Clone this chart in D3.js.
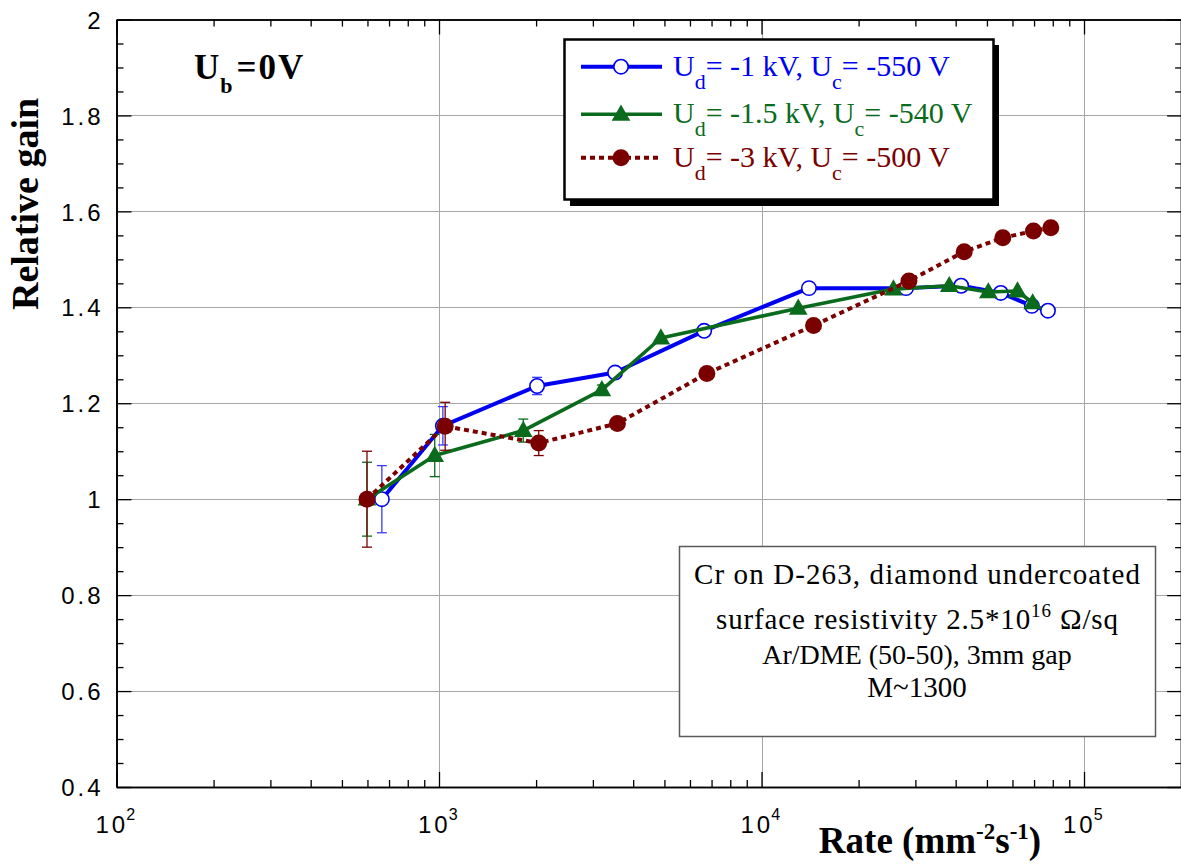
<!DOCTYPE html>
<html>
<head>
<meta charset="utf-8">
<script src="https://cdn.jsdelivr.net/npm/d3@7"></script>
<style>
  html, body { margin: 0; padding: 0; background: #fff; }
  svg { display: block; }
</style>
</head>
<body>
<svg id="chart" width="1181" height="866"></svg>
<script>
// ---- data: rate (mm^-2 s^-1), relative gain, and gain uncertainty ----
const rateBlue  = [665, 1028, 2014, 3516, 6640, 14030, 28060, 41600, 55200, 68900, 77300];
const gainBlue  = [1.000, 1.153, 1.236, 1.264, 1.351, 1.440, 1.440, 1.445, 1.430, 1.403, 1.393];
const errBlue   = [0.070, 0.040, 0.018, 0.010, 0, 0, 0, 0, 0, 0, 0];

const rateGreen = [598, 970, 1825, 3199, 4875, 13000, 25650, 38200, 50500, 62200, 69300];
const gainGreen = [1.000, 1.091, 1.143, 1.228, 1.336, 1.398, 1.438, 1.445, 1.432, 1.434, 1.409];
const errGreen  = [0.077, 0.044, 0.024, 0.010, 0, 0, 0, 0, 0, 0, 0];

const rateRed   = [598, 1045, 2038, 3574, 6770, 14500, 28650, 42500, 56000, 69700, 78900];
const gainRed   = [1.000, 1.152, 1.117, 1.158, 1.262, 1.362, 1.455, 1.516, 1.545, 1.559, 1.566];
const errRed    = [0.100, 0.050, 0.026, 0.012, 0, 0, 0, 0, 0, 0, 0];

const seriesNames = [
  { U: "U", d: "d", mid: "= -1 kV, U", c: "c", end: "= -550 V" },
  { U: "U", d: "d", mid: "= -1.5 kV, U", c: "c", end: "= -540 V" },
  { U: "U", d: "d", mid: "= -3 kV, U", c: "c", end: "= -500 V" }
];

const yTickValues = [0.4, 0.6, 0.8, 1.0, 1.2, 1.4, 1.6, 1.8, 2.0];
const xTickExponents = [2, 3, 4, 5];

const infoLines = [
  "Cr on D-263, diamond undercoated",
  "surface resistivity 2.5*10",
  "Ar/DME (50-50), 3mm gap",
  "M~1300"
];

// ---- layout ----
const plot = { left: 116.5, top: 19.5, right: 1181.1, bottom: 787 };
const serif = "'Liberation Serif', 'Times New Roman', Times, serif";
const sans = "'Liberation Sans', Arial, Helvetica, sans-serif";
const colors = { blue: "#0000f0", green: "#0b6b1c", red: "#7a0000" };

const svg = d3.select("#chart");

const x = d3.scaleLog().domain([100, 2e5]).range([plot.left, plot.right]);
const y = d3.scaleLinear().domain([0.4, 2.0]).range([plot.bottom, plot.top]);

// ---- grid ----
const grid = svg.append("g").attr("stroke", "#a6a6a6").attr("stroke-width", 1);
xTickExponents.filter(e => e > 2).forEach(e => {
  grid.append("line")
    .attr("x1", Math.round(x(Math.pow(10, e))) + 0.5).attr("x2", Math.round(x(Math.pow(10, e))) + 0.5)
    .attr("y1", plot.top).attr("y2", plot.bottom);
});
yTickValues.filter(v => v > 0.45 && v < 1.95).forEach(v => {
  grid.append("line")
    .attr("x1", plot.left).attr("x2", plot.right)
    .attr("y1", Math.round(y(v)) + 0.5).attr("y2", Math.round(y(v)) + 0.5);
});

// ---- axes ----
const majorX = xTickExponents.map(e => Math.pow(10, e));
const minorX = [];
[2, 3, 4].forEach(e => { for (let k = 2; k <= 9; k++) minorX.push(k * Math.pow(10, e)); });
minorX.push(2e5);
const minorY = d3.range(0.45, 2.0, 0.05).filter(v => Math.abs(v * 5 - Math.round(v * 5)) > 0.01);

function styleAxis(g) {
  g.select(".domain").attr("stroke", "#000").attr("stroke-width", 1.6);
  g.selectAll(".tick line").attr("stroke", "#000").attr("stroke-width", 1.3);
}

// bottom
svg.append("g").attr("transform", `translate(0,${plot.bottom})`)
  .call(d3.axisBottom(x).tickValues(minorX).tickSize(-7).tickSizeOuter(0).tickFormat(""))
  .call(styleAxis);
svg.append("g").attr("transform", `translate(0,${plot.bottom})`)
  .call(d3.axisBottom(x).tickValues(majorX).tickSize(-15).tickSizeOuter(0).tickFormat(""))
  .call(styleAxis);
// top
svg.append("g").attr("transform", `translate(0,${plot.top})`)
  .call(d3.axisTop(x).tickValues(minorX).tickSize(-7).tickSizeOuter(0).tickFormat(""))
  .call(styleAxis);
svg.append("g").attr("transform", `translate(0,${plot.top})`)
  .call(d3.axisTop(x).tickValues(majorX).tickSize(-15).tickSizeOuter(0).tickFormat(""))
  .call(styleAxis);
// left
svg.append("g").attr("transform", `translate(${plot.left},0)`)
  .call(d3.axisLeft(y).tickValues(minorY).tickSize(-7).tickSizeOuter(0).tickFormat(""))
  .call(styleAxis);
const yAxisG = svg.append("g").attr("transform", `translate(${plot.left},0)`)
  .call(d3.axisLeft(y).tickValues(yTickValues).tickSize(-15).tickSizeOuter(0).tickPadding(13)
    .tickFormat(v => String(Math.round(v * 10) / 10)))
  .call(styleAxis);
yAxisG.selectAll(".tick text")
  .attr("font-family", sans).attr("font-size", 24).attr("fill", "#000")
  .attr("letter-spacing", 3).attr("dy", "0.36em");
// right
svg.append("g").attr("transform", `translate(${plot.right},0)`)
  .call(d3.axisRight(y).tickValues(minorY).tickSize(-6).tickSizeOuter(0).tickFormat(""))
  .call(styleAxis);
svg.append("g").attr("transform", `translate(${plot.right},0)`)
  .call(d3.axisRight(y).tickValues(yTickValues).tickSize(-14).tickSizeOuter(0).tickFormat(""))
  .call(styleAxis);

// x tick labels as powers of ten
xTickExponents.forEach(e => {
  const t = svg.append("text")
    .attr("x", x(Math.pow(10, e)) - 21).attr("y", 833)
    .attr("font-family", sans).attr("font-size", 24).attr("fill", "#000");
  t.append("tspan").attr("letter-spacing", 3).text("10");
  t.append("tspan").attr("font-size", 16).attr("dy", -13).attr("dx", -2).text(String(e));
});

// ---- axis titles ----
svg.append("text")
  .attr("transform", "translate(38,204) rotate(-90)")
  .attr("text-anchor", "middle")
  .attr("font-family", serif).attr("font-weight", "bold").attr("font-size", 38)
  .text("Relative gain");

const xt = svg.append("text")
  .attr("x", 930).attr("y", 853).attr("text-anchor", "middle")
  .attr("font-family", serif).attr("font-weight", "bold").attr("font-size", 37);
xt.append("tspan").text("Rate (mm");
xt.append("tspan").attr("font-size", 23).attr("dy", -14).text("-2");
xt.append("tspan").attr("dy", 14).text("s");
xt.append("tspan").attr("font-size", 23).attr("dy", -14).text("-1");
xt.append("tspan").attr("dy", 14).text(")");

// ---- bias label ----
const ub = svg.append("text")
  .attr("x", 194).attr("y", 79)
  .attr("font-family", serif).attr("font-weight", "bold").attr("font-size", 35);
ub.append("tspan").text("U");
ub.append("tspan").attr("font-size", 22).attr("dy", 14).attr("dx", 1).text("b");
ub.append("tspan").attr("dy", -14).attr("dx", 4).attr("letter-spacing", 2).text("=0V");

// ---- info box ----
svg.append("rect")
  .attr("x", 679.5).attr("y", 546.5).attr("width", 476).attr("height", 190)
  .attr("fill", "#fff").attr("stroke", "#5a5a5a").attr("stroke-width", 1.5);
const infoBase = [584, 629, 664, 697];
const infoWidth = [446, 402, null, null];
infoLines.forEach((line, i) => {
  const t = svg.append("text")
    .attr("x", 917).attr("y", infoBase[i]).attr("text-anchor", "middle")
    .attr("font-family", serif).attr("font-size", i === 2 ? 28 : 29).attr("fill", "#000");
  if (infoWidth[i]) t.attr("textLength", infoWidth[i]).attr("lengthAdjust", "spacing");
  t.append("tspan").text(line);
  if (i === 1) {
    t.append("tspan").attr("font-size", 19).attr("dy", -12).text("16");
    t.append("tspan").attr("dy", 12).text(" \u03A9/sq");
  }
});

// ---- legend ----
svg.append("rect").attr("x", 570).attr("y", 45).attr("width", 429).attr("height", 161).attr("fill", "#000");
svg.append("rect").attr("x", 564.5).attr("y", 39.5).attr("width", 429).attr("height", 160)
  .attr("fill", "#fff").attr("stroke", "#000").attr("stroke-width", 2.5);

// ---- series ----
const series = [
  { rate: rateBlue,  gain: gainBlue,  err: errBlue,  color: colors.blue,  barColor: "#3a3aff", width: 4,   dash: null,  marker: "open" },
  { rate: rateGreen, gain: gainGreen, err: errGreen, color: colors.green, barColor: colors.green, width: 3.6, dash: null, marker: "tri" },
  { rate: rateRed,   gain: gainRed,   err: errRed,   color: colors.red,   barColor: colors.red, width: 4,   dash: "5,4", marker: "dot" }
];

const line = d3.line().x(d => x(d.r)).y(d => y(d.g));

function drawMarker(g, type, color, cx, cy) {
  if (type === "open") {
    g.append("circle").attr("cx", cx).attr("cy", cy).attr("r", 7.2)
      .attr("fill", "#fff").attr("stroke", color).attr("stroke-width", 1.6);
  } else if (type === "tri") {
    g.append("path").attr("d", d3.symbol(d3.symbolTriangle, 150)())
      .attr("transform", `translate(${cx},${cy + 1})`).attr("fill", color);
  } else {
    g.append("circle").attr("cx", cx).attr("cy", cy).attr("r", 8.5).attr("fill", color);
  }
}

series.forEach(s => {
  const pts = s.rate.map((r, i) => ({ r, g: s.gain[i], e: s.err[i] }));
  const g = svg.append("g");
  // error bars
  pts.filter(p => p.e > 0).forEach(p => {
    const px = x(p.r);
    const y1 = y(p.g + p.e), y2 = y(p.g - p.e);
    const eb = g.append("g").attr("stroke", s.barColor).attr("stroke-width", 1.3);
    eb.append("line").attr("x1", px).attr("x2", px).attr("y1", y1).attr("y2", y2);
    eb.append("line").attr("x1", px - 5).attr("x2", px + 5).attr("y1", y1).attr("y2", y1);
    eb.append("line").attr("x1", px - 5).attr("x2", px + 5).attr("y1", y2).attr("y2", y2);
  });
  g.append("path").datum(pts).attr("d", line)
    .attr("fill", "none").attr("stroke", s.color).attr("stroke-width", s.width)
    .attr("stroke-linejoin", "round")
    .attr("stroke-dasharray", s.dash);
  pts.forEach(p => drawMarker(g, s.marker, s.color, x(p.r), y(p.g)));
});

// legend entries
const legendRows = [66.7, 114.3, 157.7];
series.forEach((s, i) => {
  const ly = legendRows[i];
  const g = svg.append("g");
  g.append("line").attr("x1", 581).attr("x2", 662).attr("y1", ly).attr("y2", ly)
    .attr("stroke", s.color).attr("stroke-width", s.width).attr("stroke-dasharray", s.dash);
  drawMarker(g, s.marker, s.color, 621, ly);
  const n = seriesNames[i];
  const t = g.append("text").attr("x", 673).attr("y", ly + 9)
    .attr("font-family", serif).attr("font-size", 30).attr("fill", s.color);
  t.append("tspan").text(n.U);
  t.append("tspan").attr("font-size", 22).attr("dy", 13).text(n.d);
  t.append("tspan").attr("dy", -13).text(n.mid);
  t.append("tspan").attr("font-size", 22).attr("dy", 13).text(n.c);
  t.append("tspan").attr("dy", -13).text(n.end);
});
</script>
</body>
</html>
